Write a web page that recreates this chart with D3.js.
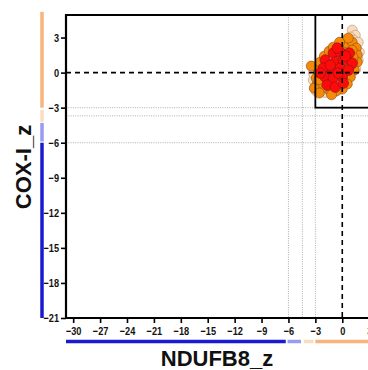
<!DOCTYPE html>
<html>
<head>
<meta charset="utf-8">
<script src="https://cdn.jsdelivr.net/npm/d3@7"></script>
<style>
  html, body { margin: 0; padding: 0; background: #fff; }
  svg { display: block; font-family: "Liberation Sans", Arial, sans-serif; }
</style>
</head>
<body>
<svg id="chart" width="368" height="370"></svg>
<script>
// axis ticks
const xTicks = [-30, -27, -24, -21, -18, -15, -12, -9, -6, -3, 0, 3];
const yTicks = [-21, -18, -15, -12, -9, -6, -3, 0, 3];

// threshold guide lines
const xGuides = [-6, -4.45, -3];
const yGuides = [-3, -3.7, -6];

// coloured class bars along axes [from, to, colour]
const xBands = [[-30.8, -6.3, "#1a1ad0"], [-6.1, -4.6, "#9a9af0"], [-4.3, -3.2, "#fbdcc2"], [-3.0, 5, "#f8b47c"]];
const yBands = [[-3.0, 5.2, "#f8b47c"], [-4.2, -3.2, "#fbdcc2"], [-5.9, -4.3, "#9a9af0"], [-21, -6.0, "#1a1ad0"]];

// scatter points (NDUFB8_z, COX-I_z)
const peachX = [1.11, 1.45, 0.9, 1.23, 1.78, 0.33, 1.9, 1.78, -3.23, -3.0, -2.45, -3.23, -2.9, -1.9, 1.5];
const peachY = [3.64, 3.2, 3.04, 2.78, 2.6, 2.78, 1.75, 1.07, -0.64, -1.15, -1.5, -0.04, -1.6, -1.7, 0.3];

const orangeX = [0.11, 0.56, -0.45, 1.11, 1.56, 1.67, 1.67, 1.34, 0.9, 0.56, 0, -0.67, -1.45, -2.23, -2.79, -2.9, -2.68, -3.46,
  -2.45, -2.0, -1.45, -1.0, 0.67, 1.11, -3.12, -2.56, 0.5, 1.2, -1.2, -0.3, 0.9, -2.6];
const orangeY = [2.35, 2.52, 2.18, 2.6, 2.1, 1.5, 0.9, 0.21, -0.38, -0.98, -1.41, -1.58, -1.5, -1.33, -0.98, -0.47, 0.21, 0.56,
  0.9, 1.41, 1.84, 2.18, 2.95, 1.92, -1.33, -1.75, 1.2, 1.3, -1.9, 2.6, 0.6, -0.6];

const redX = [-1.0, -0.22, 0.78, -1.9, -0.78, 0.11, 1.11, -2.12, -1.11, -0.22, 0.67, -1.9, -1.0, 0, -1.67, -0.78, 0.11, -0.45,
  -1.34, -2.45, -0.56, 0.33];
const redY = [1.67, 1.75, 1.67, 1.07, 0.9, 1.07, 0.81, 0.38, 0.21, 0.38, 0.21, -0.38, -0.47, -0.38, -1.07, -1.24, -0.9, -0.04,
  0.64, -0.04, 2.1, 1.41];

const svg = d3.select("#chart");
const plotLeft = 66, plotTop = 15, plotBottom = 318;

const x = d3.scaleLinear().domain([-30.8, 5]).range([plotLeft, plotLeft + 35.8 * 8.97]);
const y = d3.scaleLinear().domain([-21, 4.93]).range([plotBottom, plotTop]);
const xMax = 5, yMax = 4.93;

// dotted guide lines
svg.append("g").selectAll("line").data(xGuides).join("line")
  .attr("x1", d => x(d)).attr("x2", d => x(d))
  .attr("y1", y(yMax)).attr("y2", plotBottom)
  .attr("stroke", "#9a9a9a").attr("stroke-width", 0.8).attr("stroke-dasharray", "1,1.3");
svg.append("g").selectAll("line").data(yGuides).join("line")
  .attr("x1", plotLeft).attr("x2", x(xMax))
  .attr("y1", d => y(d)).attr("y2", d => y(d))
  .attr("stroke", "#9a9a9a").attr("stroke-width", 0.8).attr("stroke-dasharray", "1,1.3");

// scatter points
function dots(xs, ys, fill, stroke, r) {
  svg.append("g").selectAll("circle").data(xs).join("circle")
    .attr("cx", d => x(d)).attr("cy", (d, i) => y(ys[i]))
    .attr("r", r)
    .attr("fill", fill).attr("stroke", stroke).attr("stroke-width", 0.6);
}
dots(peachX, peachY, "#f9dcc0", "#b89070", 5);
dots(orangeX, orangeY, "#f58a0a", "#8a4a10", 5);
dots(redX, redY, "#ff0a0a", "#7a1a10", 5.3);

// dashed zero lines
svg.append("line")
  .attr("x1", plotLeft).attr("x2", x(xMax)).attr("y1", y(0)).attr("y2", y(0))
  .attr("stroke", "#000").attr("stroke-width", 1.6).attr("stroke-dasharray", "5,4");
svg.append("line")
  .attr("x1", x(0)).attr("x2", x(0)).attr("y1", y(yMax)).attr("y2", plotBottom)
  .attr("stroke", "#000").attr("stroke-width", 1.6).attr("stroke-dasharray", "5,4");

// box around the normal region
svg.append("rect")
  .attr("x", x(-3)).attr("y", y(yMax))
  .attr("width", x(xMax) - x(-3)).attr("height", y(-3) - y(yMax))
  .attr("fill", "none").attr("stroke", "#000").attr("stroke-width", 1.8);

// frame
svg.append("path")
  .attr("d", `M${x(xMax)},${y(yMax)}H${plotLeft}V${plotBottom}H${x(xMax)}`)
  .attr("fill", "none").attr("stroke", "#000").attr("stroke-width", 2.2);

// axes
const gx = svg.append("g").attr("transform", `translate(0,${plotBottom})`)
  .call(d3.axisBottom(x).tickValues(xTicks).tickSize(5).tickPadding(4).tickSizeOuter(0));
const gy = svg.append("g").attr("transform", `translate(${plotLeft},0)`)
  .call(d3.axisLeft(y).tickValues(yTicks).tickSize(5).tickPadding(2).tickSizeOuter(0));
[gx, gy].forEach(g => {
  g.select(".domain").remove();
  g.selectAll(".tick line").attr("stroke", "#000").attr("stroke-width", 1.6);
  g.selectAll(".tick text").attr("fill", "#111")
    .style("font-size", "11.5px").style("font-weight", "bold");
});
gx.selectAll(".tick text").attr("transform", "scale(0.8,1)");
gy.selectAll(".tick text").attr("x", 0).attr("transform", "translate(-7,0) scale(0.8,1)");

// coloured class bars
svg.append("g").selectAll("line").data(xBands).join("line")
  .attr("x1", d => x(d[0])).attr("x2", d => x(d[1]))
  .attr("y1", 341.5).attr("y2", 341.5)
  .attr("stroke", d => d[2]).attr("stroke-width", 3.5);
svg.append("g").selectAll("line").data(yBands).join("line")
  .attr("x1", 42).attr("x2", 42)
  .attr("y1", d => y(d[0])).attr("y2", d => y(d[1]))
  .attr("stroke", d => d[2]).attr("stroke-width", 3.5);

// axis titles
svg.append("text")
  .attr("x", 217).attr("y", 366)
  .attr("text-anchor", "middle")
  .style("font-size", "22px").style("font-weight", "bold").attr("fill", "#111")
  .text("NDUFB8_z");
svg.append("text")
  .attr("transform", "translate(31,167) rotate(-90)")
  .attr("text-anchor", "middle")
  .style("font-size", "22px").style("font-weight", "bold").attr("fill", "#111")
  .text("COX-I_z");
</script>
</body>
</html>
